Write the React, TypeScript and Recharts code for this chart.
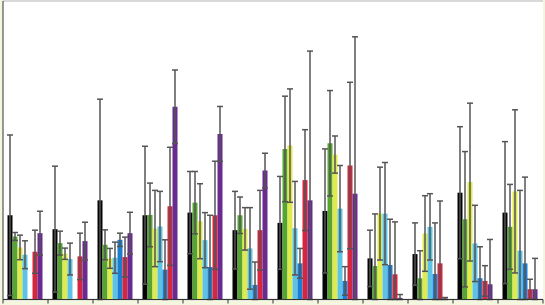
import React from 'react';
import { BarChart, Bar, XAxis, YAxis, CartesianGrid, ErrorBar } from 'recharts';

const categories = ['1', '2', '3', '4', '5', '6', '7', '8', '9', '10', '11', '12'];

const black = [2.54, 2.12, 2.99, 2.54, 2.62, 2.09, 2.31, 2.67, 1.24, 1.37, 3.22, 2.62];
const blackErr = [2.42, 1.9, 3.05, 2.08, 1.24, 1.17, 1.4, 1.87, 0.85, 0.94, 1.99, 2.14];
const green = [1.9, 1.7, 1.65, 2.55, 2.92, 2.54, 4.54, 4.71, 1.01, 0.64, 2.42, 2.19];
const greenErr = [0.12, 0.36, 0.45, 0.96, 0.94, 0.55, 1.59, 1.59, 1.57, 0.83, 2.04, 1.28];
const yellow = [1.57, 1.38, 1.24, 2.14, 2.36, 2.13, 4.64, 4.37, 2.59, 1.99, 3.54, 3.26];
const yellowErr = [0.37, 0.17, 0.3, 1.15, 1.13, 0.64, 1.71, 0.56, 1.4, 1.14, 2.38, 2.46];
const cyan = [1.35, 1.22, 1.26, 2.2, 1.79, 1.54, 2.15, 2.74, 2.59, 2.19, 1.69, 1.47];
const cyanErr = [0.42, 0.48, 0.47, 1.06, 0.83, 1.23, 1.41, 1.3, 1.54, 1.0, 1.15, 1.82];
const blue = [0, 0, 1.8, 0.9, 0.98, 0.44, 1.09, 0.56, 1.04, 0.77, 0.64, 1.09];
const blueErr = [0, 0, 0.2, 0.9, 1.56, 0.69, 0.45, 0.43, 1.38, 1.54, 0.95, 2.6];
const red = [1.44, 1.3, 1.28, 2.81, 2.54, 2.09, 3.6, 4.04, 0.76, 1.09, 0.56, 0.31];
const redErr = [0.65, 0.7, 0.6, 1.78, 1.63, 1.2, 1.52, 2.51, 1.58, 1.88, 0.46, 0.3];
const purple = [2.0, 1.76, 2.0, 5.81, 4.99, 3.89, 2.99, 3.19, 0.05, 0.03, 0.46, 0.31];
const purpleErr = [0.66, 0.57, 0.63, 1.11, 0.83, 0.52, 4.5, 4.73, 0.1, 0.03, 1.35, 0.93];

const yTicks = [0, 1, 2, 3, 4, 5, 6, 7, 8, 9];

const series = [
  { key: 'black', values: black, errors: blackErr, color: '#050505' },
  { key: 'green', values: green, errors: greenErr, color: '#56a532' },
  { key: 'yellow', values: yellow, errors: yellowErr, color: '#dfeb4c' },
  { key: 'cyan', values: cyan, errors: cyanErr, color: '#5cc3e6' },
  { key: 'blue', values: blue, errors: blueErr, color: '#1c7ccf' },
  { key: 'red', values: red, errors: redErr, color: '#d4263e' },
  { key: 'purple', values: purple, errors: purpleErr, color: '#6a2b90' },
];

// errors are symmetric, lower arm cut at the axis
const data = categories.map((name, i) => {
  const row: Record<string, any> = { name };
  series.forEach((s) => {
    const v = s.values[i];
    const e = s.errors[i];
    row[s.key] = v;
    row[s.key + 'Err'] = v === 0 && e === 0 ? null : [Math.min(e, v), e];
  });
  return row;
});

const W = 545;
const H = 305;
const BAND = (W - 5) / categories.length;

const BoundaryTick = (props: any) => {
  const { x, y, index } = props;
  const left = x - BAND / 2;
  return (
    <g>
      <line x1={left} x2={left} y1={y} y2={y + 4} stroke="#333" strokeWidth={1} />
      {index === categories.length - 1 && (
        <line x1={left + BAND} x2={left + BAND} y1={y} y2={y + 4} stroke="#333" strokeWidth={1} />
      )}
    </g>
  );
};

export default function App() {
  return (
    <div style={{ width: W, height: H, background: '#f5f6df' }}>
      <style>{'body{margin:0}'}</style>
      <BarChart
        width={W}
        height={H}
        data={data}
        margin={{ top: 1, right: 2, bottom: 0, left: 0 }}
        barCategoryGap="10%"
        barGap={0}
      >
        <CartesianGrid vertical={false} stroke="#d9d9d9" strokeWidth={2} fill="#ffffff" />
        <XAxis
          dataKey="name"
          height={5.5}
          axisLine={{ stroke: '#333', strokeWidth: 1 }}
          tickLine={false}
          tickSize={0}
          tickMargin={0}
          tick={<BoundaryTick />}
          interval={0}
        />
        <YAxis
          width={3}
          domain={[0, 9]}
          ticks={yTicks}
          interval={0}
          tick={false}
          tickSize={3}
          axisLine={{ stroke: '#333', strokeWidth: 1 }}
          tickLine={{ stroke: '#333' }}
        />
        {series.map((s) => (
          <Bar key={s.key} dataKey={s.key} fill={s.color} isAnimationActive={false}>
            <ErrorBar dataKey={s.key + 'Err'} width={3} stroke="#555" strokeWidth={1.5} />
          </Bar>
        ))}
      </BarChart>
    </div>
  );
}
